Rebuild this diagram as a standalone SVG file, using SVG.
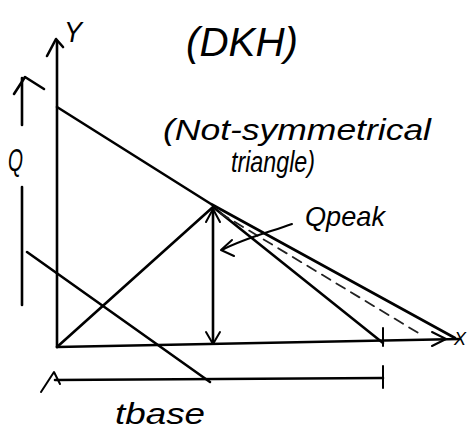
<svg xmlns="http://www.w3.org/2000/svg" width="473" height="435" viewBox="0 0 473 435">
<style>
.ln{stroke:#000;stroke-width:2.6;fill:none;stroke-linecap:round;stroke-linejoin:round}
.th{stroke:#000;stroke-width:2;fill:none;stroke-linecap:round;stroke-linejoin:round}
.ds{stroke:#222;stroke-width:1.8;fill:none;stroke-dasharray:10 7;stroke-linecap:round}
.tx{font-family:"Liberation Sans","DejaVu Sans",sans-serif;font-style:italic;fill:#000}
</style>
<rect width="473" height="435" fill="#fff"/>
<g id="connectors">
  <!-- Y axis -->
  <path class="ln" d="M57,347 L57,42"/>
  <path class="ln" d="M47,56 L56,39 L63,47"/>
  <!-- X axis -->
  <path class="ln" d="M57,347 L460,339"/>
  <path class="th" d="M432,332 L446,339 L432,346"/>
  <path class="th" d="M383,328 L383,346"/>
  <!-- Q arrow -->
  <path class="ln" d="M22,125 L22,78"/>
  <path class="ln" d="M14,94 L25,77 L44,89"/>
  <path class="ln" d="M22,187 L22,305"/>
  <!-- falling line from Q axis -->
  <path class="ln" d="M27,252 L210,382"/>
  <!-- tbase dimension -->
  <path class="ln" d="M55,380 L383,378"/>
  <path class="th" d="M41,392 L54,372 L60,384"/>
  <path class="th" d="M383,366 L383,388"/>
  <!-- triangle -->
  <path class="ln" d="M57,347 L213,207 L383,343"/>
  <!-- vertical Qpeak arrow -->
  <path class="ln" d="M213,210 L213,343"/>
  <path class="th" d="M206,222 L213,209 L220,222"/>
  <path class="th" d="M206,332 L213,344 L220,332"/>
  <!-- upper line -->
  <path class="ln" d="M57,107 L211,204 L455,338"/>
  <!-- dashed construction line -->
  <path class="ds" d="M220,213 L420,334"/>
  <!-- Qpeak leader -->
  <path class="th" d="M292,224 C270,232 245,238 222,250"/>
  <path class="th" d="M232,240 L221,250 L234,256"/>
</g>
<g id="labels">
  <text class="tx" x="64" y="42" font-size="30" textLength="18" lengthAdjust="spacingAndGlyphs">Y</text>
  <text class="tx" x="186" y="56" font-size="40" textLength="112" lengthAdjust="spacingAndGlyphs">(DKH)</text>
  <text class="tx" x="163" y="140" font-size="30" textLength="268" lengthAdjust="spacingAndGlyphs">(Not-symmetrical</text>
  <text class="tx" x="231" y="172" font-size="30" textLength="84" lengthAdjust="spacingAndGlyphs">triangle)</text>
  <text class="tx" x="8" y="171" font-size="32" textLength="15" lengthAdjust="spacingAndGlyphs">Q</text>
  <text class="tx" x="305" y="226" font-size="28" textLength="80" lengthAdjust="spacingAndGlyphs">Qpeak</text>
  <text class="tx" x="454" y="345" font-size="18" textLength="12" lengthAdjust="spacingAndGlyphs">X</text>
  <text class="tx" x="115" y="424" font-size="30" textLength="90" lengthAdjust="spacingAndGlyphs">tbase</text>
</g>
</svg>
